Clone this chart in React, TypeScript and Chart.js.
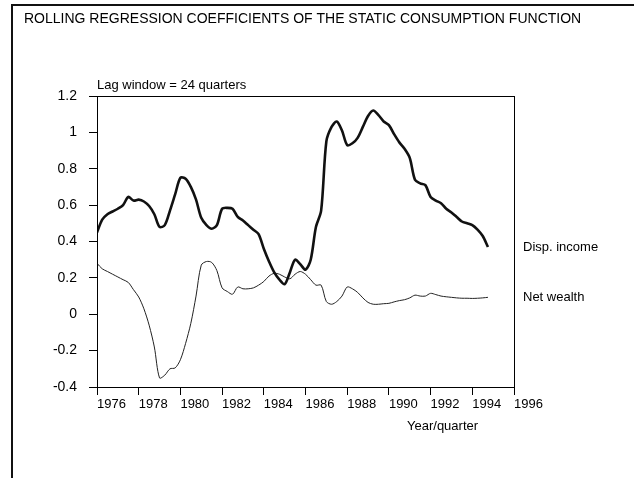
import React, { useEffect, useRef } from "react";
import { Chart, registerables } from "chart.js";

Chart.register(...registerables);

// ---- data (quarterly, starting 1976 Q1) ----
const startYear = 1976;
const dispIncome = [
  0.45, 0.52, 0.55, 0.565, 0.58, 0.6, 0.645, 0.625, 0.63, 0.62,
  0.595, 0.55, 0.48, 0.49, 0.57, 0.66, 0.75, 0.745, 0.7, 0.63,
  0.53, 0.49, 0.47, 0.49, 0.58, 0.585, 0.58, 0.535, 0.515, 0.49,
  0.465, 0.44, 0.36, 0.29, 0.23, 0.19, 0.165, 0.23, 0.3, 0.275,
  0.245, 0.3, 0.48, 0.57, 0.95, 1.03, 1.06, 1.01, 0.93, 0.94,
  0.97, 1.03, 1.09, 1.12, 1.095, 1.06, 1.04, 0.99, 0.945, 0.91,
  0.86, 0.74, 0.72, 0.71, 0.645, 0.625, 0.61, 0.58, 0.56, 0.535,
  0.51, 0.5, 0.49, 0.465, 0.43, 0.37,
];
const netWealth = [
  0.28, 0.25, 0.235, 0.22, 0.205, 0.19, 0.175, 0.135, 0.095, 0.03,
  -0.06, -0.18, -0.35, -0.335, -0.3, -0.295, -0.25, -0.16, -0.05, 0.1,
  0.27, 0.29, 0.285, 0.24, 0.145, 0.125, 0.11, 0.15, 0.14, 0.14,
  0.145, 0.16, 0.18, 0.21, 0.225, 0.22, 0.205, 0.195, 0.22, 0.235,
  0.22, 0.19, 0.16, 0.16, 0.07, 0.055, 0.07, 0.1, 0.15, 0.14,
  0.12, 0.09, 0.065, 0.055, 0.055, 0.058, 0.06, 0.068, 0.075, 0.08,
  0.09, 0.105, 0.1, 0.1, 0.115, 0.108, 0.1, 0.096, 0.093, 0.09,
  0.088, 0.088, 0.087, 0.088, 0.09, 0.093,
];
const xMin = 1976;
const xMax = 1996;
const xStep = 2;
const yMin = -0.4;
const yMax = 1.2;
const yStep = 0.2;

const titleText = "ROLLING REGRESSION COEFFICIENTS OF THE STATIC CONSUMPTION FUNCTION";
const subtitleText = "Lag window = 24 quarters";
const xTitleText = "Year/quarter";
const seriesNames = ["Disp. income", "Net wealth"];

const FONT = "'Liberation Sans', Arial, Helvetica, sans-serif";
const W = 634;
const H = 478;

const decorPlugin = {
  id: "decor",
  afterDraw(chart: any) {
    const ctx = chart.ctx as CanvasRenderingContext2D;
    const ca = chart.chartArea;
    const ys = chart.scales.y;
    ctx.save();
    // outer frame
    ctx.strokeStyle = "#111";
    ctx.lineWidth = 2;
    ctx.beginPath();
    ctx.moveTo(12, H);
    ctx.lineTo(12, 5);
    ctx.lineTo(W, 5);
    ctx.stroke();
    // plot box
    ctx.lineWidth = 1;
    ctx.strokeStyle = "#000";
    ctx.strokeRect(ca.left + 0.5, ca.top + 0.5, ca.right - ca.left, ca.bottom - ca.top);
    // texts
    ctx.fillStyle = "#000";
    ctx.textBaseline = "middle";
    ctx.textAlign = "left";
    ctx.font = `14px ${FONT}`;
    ctx.fillText(titleText, 24, 19);
    ctx.font = `13px ${FONT}`;
    ctx.fillText(subtitleText, ca.left, 85);
    ctx.fillText(xTitleText, ca.right - 107, 426);
    const lastD = dispIncome[dispIncome.length - 1];
    const lastN = netWealth[netWealth.length - 1];
    ctx.fillText(seriesNames[0], ca.right + 9, ys.getPixelForValue(lastD));
    ctx.fillText(seriesNames[1], ca.right + 9, ys.getPixelForValue(lastN));
    ctx.restore();
  },
};

export default function App() {
  const ref = useRef<HTMLCanvasElement | null>(null);

  useEffect(() => {
    if (!ref.current) return;
    const toPts = (arr: number[]) => arr.map((v, i) => ({ x: startYear + i / 4, y: v }));
    const chart = new Chart(ref.current, {
      type: "line",
      data: {
        datasets: [
          {
            label: seriesNames[0],
            data: toPts(dispIncome),
            borderColor: "#111",
            borderWidth: 2.6,
            pointRadius: 0,
            tension: 0.3,
            fill: false,
          },
          {
            label: seriesNames[1],
            data: toPts(netWealth),
            borderColor: "#222",
            borderWidth: 1,
            pointRadius: 0,
            tension: 0.3,
            fill: false,
          },
        ],
      },
      options: {
        animation: false,
        responsive: false,
        maintainAspectRatio: false,
        layout: { padding: { left: 0, top: 96, right: 120, bottom: 0 } },
        plugins: { legend: { display: false }, tooltip: { enabled: false }, title: { display: false } },
        scales: {
          x: {
            type: "linear",
            min: xMin,
            max: xMax,
            afterFit: (s: any) => { s.height = H - 387; },
            ticks: {
              stepSize: xStep,
              autoSkip: false,
              maxRotation: 0,
              align: "start",
              padding: 2,
              color: "#000",
              font: { family: FONT, size: 13 },
              callback: (v: any) => String(v),
            },
            grid: { drawOnChartArea: false, drawTicks: true, tickLength: 8, color: "#000" },
            border: { display: true, color: "#000", width: 1 },
          },
          y: {
            type: "linear",
            min: yMin,
            max: yMax,
            afterFit: (s: any) => { s.width = 97; },
            ticks: {
              stepSize: yStep,
              padding: 12,
              color: "#000",
              font: { family: FONT, size: 14 },
              callback: (v: any) => String(Math.round(Number(v) * 10) / 10),
            },
            grid: { drawOnChartArea: false, drawTicks: true, tickLength: 8, color: "#000" },
            border: { display: true, color: "#000", width: 1 },
          },
        },
      },
      plugins: [decorPlugin],
    });
    return () => chart.destroy();
  }, []);

  return (
    <div style={{ position: "absolute", left: 0, top: 0, width: W, height: H, background: "#fff" }}>
      <canvas ref={ref} width={W} height={H} style={{ width: W, height: H, display: "block" }} />
    </div>
  );
}
